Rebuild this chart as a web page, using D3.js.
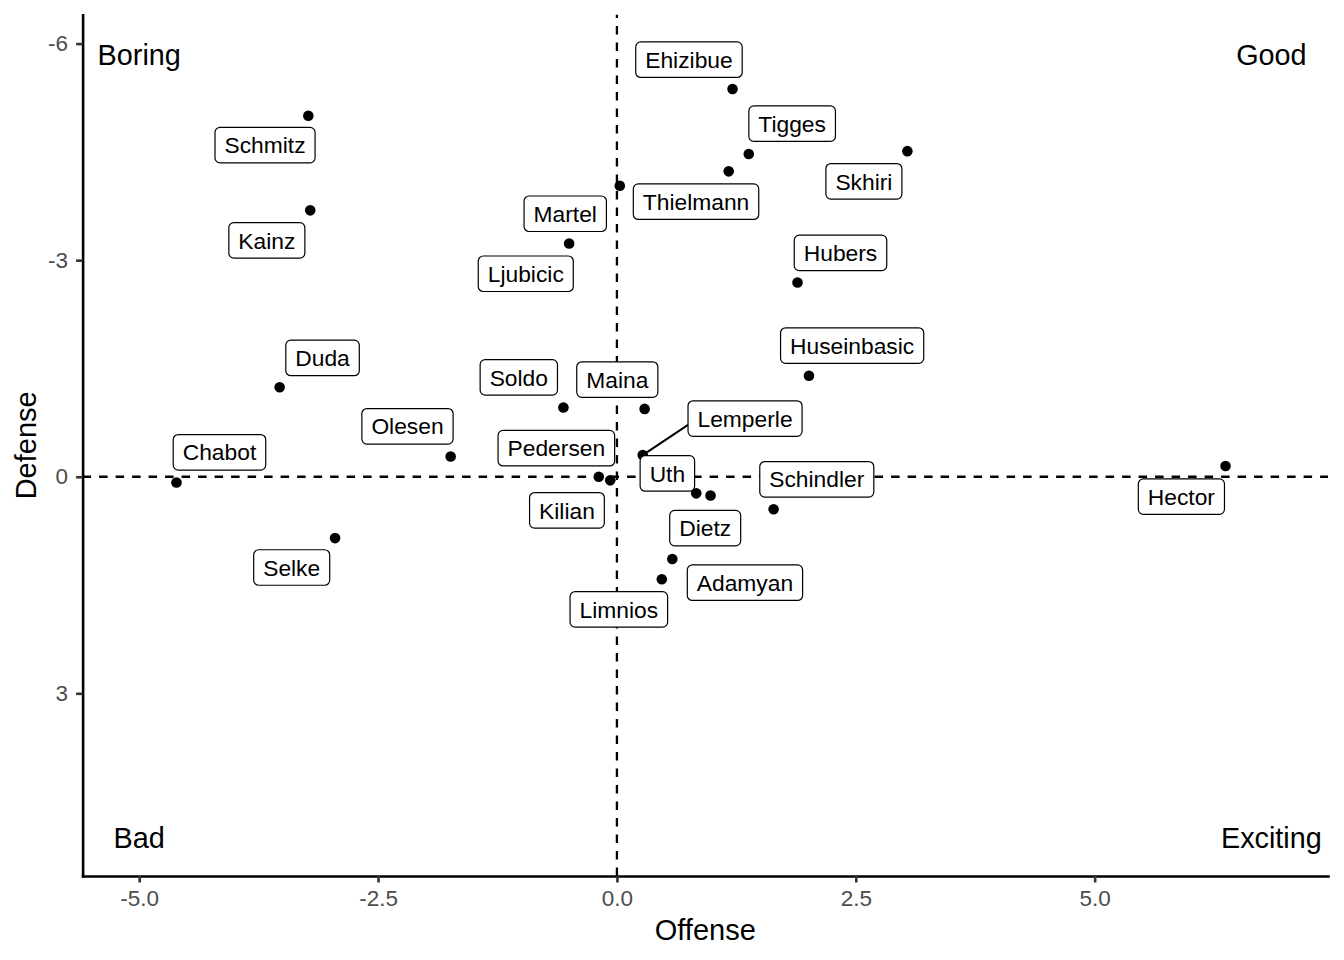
<!DOCTYPE html>
<html>
<head>
<meta charset="utf-8">
<script src="https://cdn.jsdelivr.net/npm/d3@7"></script>
<style>
  html, body { margin: 0; padding: 0; background: #ffffff; }
  svg { display: block; }
</style>
</head>
<body>
<svg id="chart" width="1344" height="960"></svg>
<script>
// ---------------- DATA ----------------
const players = ["Ehizibue","Tigges","Thielmann","Skhiri","Hubers","Martel","Ljubicic",
  "Schmitz","Kainz","Duda","Soldo","Maina","Olesen","Chabot","Pedersen","Kilian",
  "Lemperle","Uth","Dietz","Schindler","Huseinbasic","Hector","Selke","Adamyan","Limnios"];
const offense = [1.21, 1.38, 1.17, 3.04, 1.89, 0.03, -0.50,
  -3.23, -3.21, -3.53, -0.56, 0.29, -1.74, -4.61, -0.19, -0.07,
  0.27, 0.83, 0.98, 1.64, 2.01, 6.37, -2.95, 0.58, 0.47];
const defense = [-5.37, -4.47, -4.23, -4.51, -2.69, -4.03, -3.23,
  -5.00, -3.69, -1.24, -0.96, -0.94, -0.28, 0.08, 0.00, 0.05,
  -0.30, 0.23, 0.26, 0.45, -1.40, -0.15, 0.85, 1.14, 1.42];
// repelled label centres (data units)
const labelOffense = [0.754, 1.834, 0.828, 2.585, 2.340, -0.541, -0.954,
  -3.683, -3.664, -3.081, -1.027, 0.004, -2.192, -4.160, -0.634, -0.523,
  1.341, 0.528, 0.924, 2.092, 2.462, 5.908, -3.404, 1.340, 0.020];
const labelDefense = [-5.777, -4.891, -3.810, -4.092, -3.101, -3.643, -2.812,
  -4.593, -3.274, -1.646, -1.376, -1.346, -0.699, -0.339, -0.396, 0.465,
  -0.806, -0.046, 0.712, 0.035, -1.817, 0.275, 1.257, 1.467, 1.837];

const quadrantNames = ["Boring", "Good", "Bad", "Exciting"];
const quadrantX = [-5, 6.85, -5, 6.85];
const quadrantY = [-5.85, -5.85, 5.0, 5.0];

const xTicks = [-5, -2.5, 0, 2.5, 5];
const xTickLabels = ["-5.0", "-2.5", "0.0", "2.5", "5.0"];
const yTicks = [-6, -3, 0, 3];
const yTickLabels = ["-6", "-3", "0", "3"];

const xTitle = "Offense";
const yTitle = "Defense";

// ---------------- LAYOUT ----------------
const FONT = "'Liberation Sans', Arial, Helvetica, sans-serif";
const svg = d3.select("#chart");
const panel = { left: 82.6, right: 1328, top: 14.7, bottom: 876 };

const x = d3.scaleLinear().domain([-5.5925, 7.4425]).range([panel.left, panel.right]);
const y = d3.scaleLinear().domain([-6.4, 5.53]).range([panel.top, panel.bottom]);

const LW = 2.3;

// reference lines
svg.append("line")
  .attr("x1", panel.left).attr("x2", panel.right)
  .attr("y1", y(0)).attr("y2", y(0))
  .attr("stroke", "#000").attr("stroke-width", LW)
  .attr("stroke-dasharray", "8.5,8");
svg.append("line")
  .attr("x1", x(0)).attr("x2", x(0))
  .attr("y1", panel.bottom).attr("y2", panel.top)
  .attr("stroke", "#000").attr("stroke-width", LW)
  .attr("stroke-dasharray", "8.5,8");

// quadrant annotations
svg.append("g").selectAll("text")
  .data(quadrantNames)
  .join("text")
  .attr("x", (d, i) => x(quadrantX[i]))
  .attr("y", (d, i) => y(quadrantY[i]) + 10.3)
  .attr("text-anchor", "middle")
  .attr("font-family", FONT)
  .attr("font-size", 28.8)
  .attr("fill", "#000")
  .text(d => d);

// points
const idx = d3.range(players.length);
svg.append("g").selectAll("circle")
  .data(idx)
  .join("circle")
  .attr("cx", i => x(offense[i]))
  .attr("cy", i => y(defense[i]))
  .attr("r", 5.3)
  .attr("fill", "#000");

// labels
const segG = svg.append("g");
const labG = svg.append("g");
const LFS = 22.8, PAD = 9.5, BOXH = 35.5;

idx.forEach(i => {
  const cx = x(labelOffense[i]), cy = y(labelDefense[i]);
  const g = labG.append("g");
  const rect = g.append("rect");
  const t = g.append("text")
    .attr("x", cx).attr("y", cy + 8.2)
    .attr("text-anchor", "middle")
    .attr("font-family", FONT)
    .attr("font-size", LFS)
    .attr("fill", "#000")
    .text(players[i]);
  const tw = t.node().getComputedTextLength();
  const w = tw + 2 * PAD;
  const bx0 = cx - w / 2, by0 = cy - BOXH / 2, bx1 = cx + w / 2, by1 = cy + BOXH / 2;
  rect.attr("x", bx0).attr("y", by0).attr("width", w).attr("height", BOXH)
    .attr("rx", 5).attr("ry", 5)
    .attr("fill", "#fff").attr("stroke", "#000").attr("stroke-width", 1.2);

  // leader segment when the label sits far from its point
  const px = x(offense[i]), py = y(defense[i]);
  const dx = Math.max(bx0 - px, 0, px - bx1);
  const dy = Math.max(by0 - py, 0, py - by1);
  if (Math.hypot(dx, dy) > 30) {
    const tx = Math.min(Math.max(px, cx - tw / 2), cx + tw / 2);
    const ty = cy;
    const vx = tx - px, vy = ty - py;
    let tEnter = 0;
    [[bx0, bx1, px, vx], [by0, by1, py, vy]].forEach(([lo, hi, p, v]) => {
      if (v !== 0) {
        const t1 = (lo - p) / v, t2 = (hi - p) / v;
        tEnter = Math.max(tEnter, Math.min(t1, t2));
      }
    });
    segG.append("line")
      .attr("x1", px).attr("y1", py)
      .attr("x2", px + tEnter * vx).attr("y2", py + tEnter * vy)
      .attr("stroke", "#000").attr("stroke-width", 2);
  }
});

// axes
const xAxis = d3.axisBottom(x)
  .tickValues(xTicks)
  .tickFormat((d, i) => xTickLabels[i])
  .tickSize(6.5).tickSizeOuter(0).tickPadding(7.5);
const yAxis = d3.axisLeft(y)
  .tickValues(yTicks)
  .tickFormat((d, i) => yTickLabels[i])
  .tickSize(6.5).tickSizeOuter(0).tickPadding(8.2);

function styleAxis(g) {
  g.attr("font-family", null).attr("font-size", null);
  g.select(".domain").attr("stroke", "#000").attr("stroke-width", 2.6)
    .attr("stroke-linecap", "square");
  g.selectAll(".tick line").attr("stroke", "#333333").attr("stroke-width", 2.6);
  g.selectAll(".tick text").attr("fill", "#4D4D4D")
    .attr("font-family", FONT).attr("font-size", 22.5);
}

svg.append("g")
  .attr("transform", `translate(0,${panel.bottom})`)
  .call(xAxis).call(styleAxis);
svg.append("g")
  .attr("transform", `translate(${panel.left},0)`)
  .call(yAxis).call(styleAxis);

// axis titles
svg.append("text")
  .attr("x", (panel.left + panel.right) / 2)
  .attr("y", 940)
  .attr("text-anchor", "middle")
  .attr("font-family", FONT).attr("font-size", 29)
  .attr("fill", "#000")
  .text(xTitle);
svg.append("text")
  .attr("transform", `translate(36,${(panel.top + panel.bottom) / 2}) rotate(-90)`)
  .attr("text-anchor", "middle")
  .attr("font-family", FONT).attr("font-size", 29)
  .attr("fill", "#000")
  .text(yTitle);
</script>
</body>
</html>
